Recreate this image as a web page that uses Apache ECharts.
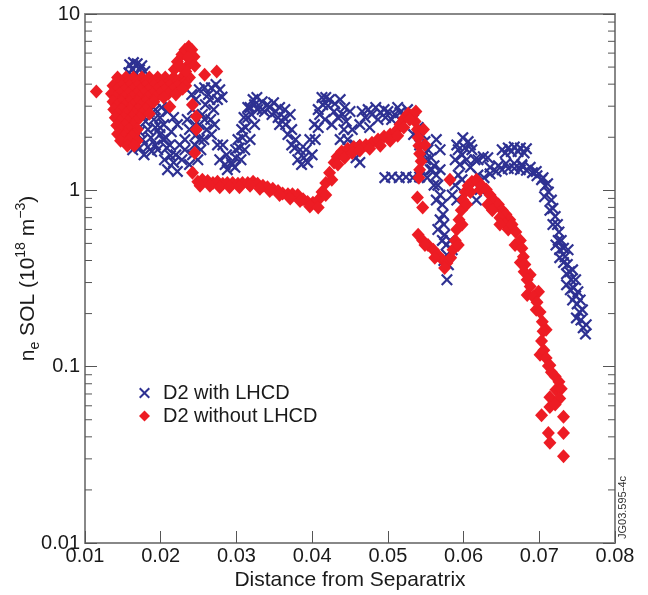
<!DOCTYPE html>
<html>
<head>
<meta charset="utf-8">
<script src="https://cdn.jsdelivr.net/npm/echarts@6/dist/echarts.min.js"></script>
<style>
  html, body { margin: 0; padding: 0; background: #fff; }
  #chart { width: 648px; height: 595px; }
</style>
</head>
<body>
<div id="chart"></div>
<script>
// x axis ticks (distance from separatrix)
var xTicks = [0.01, 0.02, 0.03, 0.04, 0.05, 0.06, 0.07, 0.08];
// minor ticks of the log axis
var yMinorTicks = [0.02, 0.03, 0.04, 0.05, 0.06, 0.07, 0.08, 0.09,
                   0.2, 0.3, 0.4, 0.5, 0.6, 0.7, 0.8, 0.9,
                   2, 3, 4, 5, 6, 7, 8, 9];

// D2 with LHCD  [distance, ne]
var withLHCD = [
  [0.0159,5.16],[0.0164,5.30],[0.0169,5.23],[0.0175,5.09],[0.0163,4.84],[0.0172,4.84],[0.0179,4.72],
  [0.0167,4.59],[0.0158,4.65],[0.0146,4.25],[0.0183,4.14],[0.0192,4.25],[0.0188,3.72],[0.0196,3.49],
  [0.0165,2.59],[0.0175,2.69],[0.0185,2.80],[0.0193,2.87],[0.0201,2.95],[0.0169,2.36],[0.0180,2.46],
  [0.0191,2.52],[0.0199,2.59],[0.0172,2.15],[0.0183,2.21],[0.0193,2.27],[0.0204,2.36],[0.0165,1.94],
  [0.0176,1.94],[0.0187,1.99],[0.0199,2.07],[0.0172,1.74],[0.0183,1.76],[0.0193,1.81],[0.0178,1.59],
  [0.0188,1.66],[0.0209,2.80],[0.0217,2.59],[0.0222,2.36],[0.0214,2.15],
  [0.0161,2.27],[0.0171,2.95],[0.0180,3.06],[0.0199,2.27],[0.0207,1.99],[0.0163,1.70],[0.0196,1.70],
  [0.0212,1.81],
  [0.0203,1.94],[0.0208,1.74],[0.0213,1.57],[0.0217,1.44],[0.0209,1.31],[0.0222,1.28],[0.0205,1.49],
  [0.0238,1.40],[0.0242,1.59],[0.0245,1.81],[0.0247,2.07],[0.0251,2.36],[0.0255,2.69],[0.0259,3.06],
  [0.0263,3.49],[0.0267,3.82],[0.0273,3.98],[0.0278,3.72],[0.0275,3.27],[0.0270,2.87],[0.0266,2.52],
  [0.0261,2.21],[0.0257,1.94],[0.0253,1.70],[0.0249,1.49],[0.0246,3.27],[0.0242,2.87],[0.0258,3.82],
  [0.0281,3.38],[0.0271,2.36],[0.0282,1.81],[0.0287,1.59],[0.0293,1.44],[0.0298,1.35],[0.0285,1.40],
  [0.0232,1.70],[0.0228,1.49],
  [0.0232,1.94],[0.0238,2.21],[0.0235,2.52],[0.0241,3.49],[0.0251,3.72],[0.0265,3.27],[0.0258,2.52],
  [0.0267,2.07],[0.0275,1.81],[0.0278,1.49],[0.0288,1.31],[0.0245,2.36],[0.0251,1.94],[0.0225,1.81],
  [0.0220,1.59],
  [0.0294,1.40],[0.0299,1.53],[0.0304,1.74],[0.0308,1.99],[0.0312,2.27],[0.0315,2.59],[0.0318,2.95],
  [0.0322,3.27],[0.0327,3.36],[0.0334,3.18],[0.0341,3.06],[0.0349,3.14],[0.0357,2.95],[0.0320,2.69],
  [0.0328,2.87],[0.0337,2.80],[0.0347,2.69],[0.0355,2.59],[0.0311,1.70],[0.0306,1.49],[0.0324,2.36],
  [0.0302,1.94],[0.0307,2.21],[0.0310,2.59],[0.0315,2.95],[0.0324,3.06],[0.0334,2.87],[0.0344,2.95],
  [0.0352,2.80],[0.0363,2.59],[0.0318,1.94],[0.0299,1.70],
  [0.0364,2.87],[0.0371,2.69],[0.0365,2.36],[0.0373,2.21],[0.0378,1.94],[0.0384,1.70],[0.0389,1.53],
  [0.0394,1.44],[0.0386,1.40],[0.0377,1.74],[0.0400,1.59],[0.0404,1.94],[0.0408,2.27],[0.0410,2.69],
  [0.0414,3.06],[0.0418,3.36],[0.0423,3.27],[0.0430,3.10],[0.0437,3.27],[0.0443,2.95],[0.0450,2.80],
  [0.0417,2.52],[0.0426,2.36],[0.0434,2.59],[0.0442,2.21],[0.0447,1.94],[0.0453,1.70],[0.0458,1.53],
  [0.0463,1.44],[0.0457,1.81],
  [0.0357,2.36],[0.0368,2.07],[0.0373,1.81],[0.0381,1.49],[0.0392,1.70],[0.0397,1.94],[0.0403,2.36],
  [0.0408,2.87],[0.0413,3.36],[0.0421,3.02],[0.0429,2.80],[0.0440,2.69],[0.0445,2.46],[0.0453,2.21],
  [0.0437,1.94],
  [0.0470,2.59],[0.0479,2.69],[0.0490,2.76],[0.0500,2.80],[0.0509,2.69],[0.0516,2.76],[0.0523,2.66],
  [0.0529,2.69],[0.0487,2.52],[0.0505,2.52],[0.0496,1.18],[0.0505,1.19],[0.0515,1.18],[0.0524,1.19],
  [0.0533,1.18],[0.0542,1.19],[0.0552,1.18],[0.0463,2.36],[0.0476,2.27],
  [0.0466,2.80],[0.0474,2.87],[0.0484,2.95],[0.0495,2.87],[0.0513,2.95],[0.0526,2.87],[0.0497,2.59],
  [0.0516,2.52],[0.0534,2.52],
  [0.0540,2.27],[0.0545,2.07],[0.0549,1.89],[0.0553,1.70],[0.0557,1.53],[0.0561,1.38],[0.0564,1.22],
  [0.0566,1.07],[0.0569,0.94],[0.0572,0.83],[0.0573,0.73],[0.0574,0.64],[0.0575,0.56],[0.0577,0.49],
  [0.0578,0.43],[0.0580,0.378],[0.0578,0.311],[0.0564,1.94],[0.0558,1.31],[0.0569,1.31],[0.0550,1.49],
  [0.0566,0.60],[0.0582,0.52],
  [0.0534,2.07],[0.0542,1.81],[0.0548,1.59],[0.0556,1.31],[0.0561,1.07],[0.0564,0.88],[0.0569,0.68],
  [0.0572,0.52],[0.0585,0.46],[0.0574,0.40],[0.0569,1.70],
  [0.0585,0.94],[0.0589,1.07],[0.0593,1.22],[0.0595,1.40],[0.0598,1.59],[0.0602,1.74],[0.0606,1.89],
  [0.0611,1.70],[0.0615,1.49],[0.0609,1.35],[0.0619,1.22],[0.0591,1.81],[0.0599,1.99],[0.0626,1.55],
  [0.0632,1.53],[0.0617,0.88],[0.0622,1.01],
  [0.0589,1.49],[0.0593,1.70],[0.0604,1.49],[0.0598,1.15],[0.0609,1.81],[0.0619,1.49],[0.0591,0.88],
  [0.0651,1.70],[0.0659,1.74],[0.0667,1.76],[0.0675,1.74],[0.0683,1.72],[0.0663,1.66],[0.0672,1.66],
  [0.0655,1.63],[0.0680,1.63],[0.0677,1.40],
  [0.0627,1.18],[0.0635,1.24],[0.0643,1.28],[0.0651,1.31],[0.0659,1.33],[0.0667,1.33],[0.0675,1.31],
  [0.0683,1.30],[0.0691,1.26],[0.0697,1.21],[0.0703,1.15],[0.0708,1.06],[0.0712,0.98],[0.0716,0.88],
  [0.0718,0.79],[0.0721,0.71],[0.0724,0.64],[0.0726,0.58],[0.0729,0.52],[0.0732,0.47],[0.0734,0.42],
  [0.0737,0.38],[0.0740,0.345],[0.0742,0.311],[0.0745,0.28],[0.0748,0.252],[0.0750,0.227],[0.0753,0.204],
  [0.0755,0.184],[0.0758,0.166],[0.0761,0.153],[0.0744,0.239],[0.0751,0.266],[0.0736,0.336],[0.0727,0.415],
  [0.0722,0.49],[0.0749,0.189],[0.0741,0.273],
  [0.0635,1.35],[0.0646,1.38],[0.0656,1.42],[0.0667,1.42],[0.0677,1.38],[0.0688,1.35],[0.0696,1.28],
  [0.0705,1.18],[0.0711,1.09],[0.0707,0.92],[0.0714,0.77],[0.0718,0.64],[0.0725,0.52],[0.0727,0.46],
  [0.0738,0.46],[0.0732,0.39],[0.0744,0.354],[0.0736,0.291],[0.0748,0.311],[0.0754,0.239],[0.0757,0.21],
  [0.0762,0.173]
];

// D2 without LHCD  [distance, ne]
var withoutLHCD = [
  [0.0115,3.63],
  [0.0143,4.36],[0.0154,4.36],[0.0164,4.36],[0.0175,4.36],[0.0185,4.36],[0.0196,4.36],[0.0206,4.36],
  [0.0217,4.36],[0.0228,4.36],[0.0238,4.36],
  [0.0148,4.14],[0.0159,4.14],[0.0169,4.14],[0.0180,4.14],[0.0191,4.14],[0.0201,4.14],[0.0212,4.14],
  [0.0222,4.14],[0.0233,4.14],
  [0.0137,3.92],[0.0148,3.92],[0.0159,3.92],[0.0169,3.92],[0.0180,3.92],[0.0191,3.92],[0.0201,3.92],
  [0.0212,3.92],[0.0222,3.92],[0.0233,3.92],
  [0.0142,3.72],[0.0152,3.72],[0.0163,3.72],[0.0173,3.72],[0.0184,3.72],[0.0195,3.72],[0.0205,3.72],
  [0.0216,3.72],
  [0.0135,3.53],[0.0146,3.53],[0.0157,3.53],[0.0168,3.53],[0.0178,3.53],[0.0189,3.53],[0.0199,3.53],
  [0.0210,3.53],
  [0.0140,3.36],[0.0151,3.36],[0.0162,3.36],[0.0172,3.36],[0.0183,3.36],[0.0193,3.36],[0.0204,3.36],
  [0.0137,3.18],[0.0148,3.18],[0.0159,3.18],[0.0169,3.18],[0.0180,3.18],[0.0191,3.18],
  [0.0142,3.02],[0.0152,3.02],[0.0163,3.02],[0.0173,3.02],[0.0184,3.02],
  [0.0138,2.87],[0.0149,2.87],[0.0160,2.87],[0.0170,2.87],[0.0181,2.87],
  [0.0143,2.72],[0.0154,2.72],[0.0165,2.72],[0.0175,2.72],[0.0185,2.72],
  [0.0140,2.58],[0.0151,2.58],[0.0162,2.58],[0.0172,2.58],
  [0.0146,2.46],[0.0157,2.46],[0.0167,2.46],
  [0.0142,2.33],[0.0153,2.33],[0.0164,2.33],
  [0.0147,2.21],[0.0158,2.21],[0.0169,2.21],
  [0.0143,2.09],[0.0154,2.09],[0.0165,2.09],
  [0.0151,2.02],[0.0162,2.02],
  [0.0147,1.91],[0.0158,1.91],[0.0169,1.91],
  [0.0156,1.79],[0.0165,1.79],
  [0.0218,4.84],[0.0222,5.36],[0.0228,5.89],[0.0232,6.28],[0.0237,6.53],[0.0241,6.28],[0.0244,5.73],
  [0.0238,5.23],[0.0233,4.72],[0.0225,5.09],[0.0245,5.09],[0.0236,5.65],
  [0.0258,4.53],[0.0274,4.72],[0.0212,2.98],[0.0242,3.06],[0.0247,2.62],[0.0247,2.21],[0.0245,1.63],
  [0.0242,1.26],[0.0220,3.49],[0.0229,3.77],
  [0.0249,1.12],[0.0255,1.15],[0.0262,1.13],[0.0269,1.10],[0.0275,1.12],[0.0282,1.09],[0.0288,1.10],
  [0.0295,1.10],[0.0302,1.09],[0.0308,1.10],[0.0315,1.10],[0.0322,1.12],[0.0328,1.09],[0.0335,1.06],
  [0.0341,1.04],[0.0348,1.02],[0.0355,0.99],[0.0361,0.96],[0.0368,0.95],[0.0374,0.95],[0.0381,0.94],
  [0.0388,0.89],[0.0394,0.86],[0.0401,0.85],[0.0408,0.88],[0.0413,0.98],[0.0418,1.10],[0.0423,1.26],
  [0.0429,1.44],[0.0433,1.55],[0.0439,1.66],[0.0447,1.72],[0.0455,1.76],[0.0463,1.79],[0.0471,1.81],
  [0.0479,1.86],[0.0487,1.94],[0.0495,2.02],[0.0503,2.07],[0.0511,2.18],[0.0516,2.36],[0.0521,2.55],
  [0.0527,2.73],[0.0532,2.66],[0.0536,2.46],[0.0539,2.21],[0.0540,1.99],[0.0541,1.79],[0.0542,1.61],
  [0.0544,1.46],[0.0542,1.31],[0.0541,1.18],[0.0539,0.91],[0.0546,0.80],
  [0.0252,1.06],[0.0265,1.06],[0.0278,1.04],[0.0291,1.04],[0.0304,1.04],[0.0318,1.06],[0.0331,1.02],
  [0.0344,0.99],[0.0357,0.94],[0.0371,0.90],[0.0384,0.87],[0.0397,0.81],[0.0408,0.80],[0.0418,0.94],
  [0.0426,1.15],[0.0434,1.40],[0.0443,1.53],[0.0453,1.63],[0.0463,1.68],[0.0476,1.72],[0.0490,1.79],
  [0.0503,1.91],[0.0513,2.04],[0.0521,2.27],[0.0529,2.52],[0.0537,2.80],[0.0547,2.21],[0.0549,1.81],
  [0.0540,0.56],[0.0546,0.52],[0.0553,0.49],[0.0560,0.46],[0.0566,0.43],[0.0573,0.40],[0.0578,0.387],
  [0.0583,0.415],[0.0586,0.46],[0.0589,0.52],[0.0591,0.60],[0.0594,0.68],[0.0597,0.77],[0.0599,0.88],
  [0.0602,0.98],[0.0606,1.06],[0.0611,1.12],[0.0617,1.15],[0.0582,1.15],
  [0.0549,0.49],[0.0562,0.415],[0.0575,0.363],[0.0593,0.49],[0.0598,0.64],[0.0604,0.83],[0.0609,0.98],
  [0.0622,1.01],
  [0.0619,1.12],[0.0624,1.06],[0.0630,1.01],[0.0635,0.94],[0.0640,0.88],[0.0646,0.83],[0.0651,0.77],
  [0.0656,0.73],[0.0661,0.68],[0.0632,0.83],[0.0648,0.70],[0.0655,0.64],
  [0.0638,0.77],[0.0648,0.64],[0.0659,0.60],[0.0668,0.49],[0.0675,0.39],[0.0688,0.332],[0.0699,0.266],
  [0.0696,0.21],[0.0709,0.162],[0.0701,0.117],[0.0714,0.102],[0.0722,0.074],
  [0.0664,0.64],[0.0669,0.58],[0.0675,0.52],[0.0677,0.47],[0.0679,0.42],[0.0681,0.38],[0.0680,0.345],
  [0.0684,0.311],[0.0688,0.285],[0.0684,0.255],[0.0692,0.249],[0.0697,0.232],[0.0701,0.204],[0.0704,0.180],
  [0.0705,0.159],[0.0703,0.140],[0.0706,0.124],[0.0709,0.112],[0.0712,0.101],[0.0716,0.093],[0.0721,0.088],
  [0.0726,0.082],[0.0729,0.075],
  [0.0714,0.067],[0.0727,0.066],[0.0714,0.059],[0.0721,0.061],[0.0703,0.053],[0.0732,0.052],
  [0.0712,0.042],[0.0732,0.042],[0.0714,0.037],[0.0732,0.031]
];

var BLUE = '#2e3192';
var RED = '#ed1c24';
var FONT = '"Liberation Sans", Arial, Helvetica, sans-serif';
var CROSS = 'path://M0,1.3L1.3,0L5,3.7L8.7,0L10,1.3L6.3,5L10,8.7L8.7,10L5,6.3L1.3,10L0,8.7L3.7,5Z';

var chart = echarts.init(document.getElementById('chart'));

var labelStyle = { color: '#1a1a1a', fontSize: 20, fontFamily: FONT };

var option = {
    animation: false,
    backgroundColor: '#fff',
    grid: { left: 85, right: 33, top: 14, bottom: 52, containLabel: false, outerBoundsMode: 'none' },
    legend: {
        left: 134, top: 378, orient: 'vertical', itemGap: 3,
        itemWidth: 11, itemHeight: 11,
        textStyle: { fontSize: 20, color: '#1a1a1a', fontFamily: FONT, padding: [0, 0, 0, 8] },
        data: [
            { name: 'D2 with LHCD', icon: CROSS, itemStyle: { color: BLUE } },
            { name: 'D2 without LHCD', icon: 'diamond', itemStyle: { color: RED } }
        ]
    },
    xAxis: [{
        type: 'value', min: 0.01, max: 0.08, interval: 0.01,
        name: 'Distance from Separatrix', nameLocation: 'middle', nameGap: 27, nameMoveOverlap: false,
        nameTextStyle: { color: '#1a1a1a', fontSize: 21, fontFamily: FONT },
        axisLine: { lineStyle: { color: '#888', width: 2 } },
        axisTick: { inside: true, length: 12, lineStyle: { color: '#555', width: 1 } },
        axisLabel: Object.assign({ margin: 3, formatter: function (v) { return v.toFixed(2); } }, labelStyle),
        splitLine: { show: false }
    }, {
        type: 'value', position: 'top', min: 0.01, max: 0.08,
        axisLine: { lineStyle: { color: '#888', width: 2 } },
        axisTick: { show: false }, axisLabel: { show: false }, splitLine: { show: false }
    }],
    yAxis: [{
        type: 'log', logBase: 10, min: 0.01, max: 10,
        name: '{a|n}{sub|e}{a| SOL (10}{sup|18}{a| m}{sup|−3}{a|)}',
        nameLocation: 'middle', nameGap: 43, nameRotate: 90, nameMoveOverlap: false,
        nameTextStyle: {
            rich: {
                a: { fontSize: 21, fontFamily: FONT, color: '#1a1a1a', lineHeight: 28, verticalAlign: 'middle' },
                sub: { fontSize: 14, fontFamily: FONT, color: '#1a1a1a', lineHeight: 28, verticalAlign: 'bottom' },
                sup: { fontSize: 14, fontFamily: FONT, color: '#1a1a1a', lineHeight: 28, verticalAlign: 'top' }
            }
        },
        axisLine: { lineStyle: { color: '#888', width: 2 } },
        axisTick: { inside: true, length: 12, lineStyle: { color: '#555', width: 1 } },
        axisLabel: Object.assign({ margin: 5, formatter: function (v) { return String(parseFloat(v.toPrecision(3))); } }, labelStyle),
        splitLine: { show: false }
    }, {
        type: 'log', logBase: 10, min: 0.01, max: 10, position: 'right',
        axisLine: { lineStyle: { color: '#888', width: 2 } },
        axisTick: { inside: true, length: 12, lineStyle: { color: '#555', width: 1 } },
        axisLabel: { show: false }, splitLine: { show: false }
    }],
    graphic: [{
        type: 'text', left: 617, top: 476, rotation: Math.PI / 2,
        style: { text: 'JG03.595-4c', fontSize: 11, fill: '#333', fontFamily: FONT }
    }],
    series: [{
        // minor ticks on both log axes
        type: 'custom', silent: true, z: 1,
        data: yMinorTicks.map(function (v) { return [0.01, v]; }),
        renderItem: function (params, api) {
            var v = api.value(1);
            var l = api.coord([0.01, v]);
            var r = api.coord([0.08, v]);
            var st = { stroke: '#555', lineWidth: 1 };
            return {
                type: 'group',
                children: [
                    { type: 'line', shape: { x1: l[0], y1: l[1], x2: l[0] + 7, y2: l[1] }, style: st },
                    { type: 'line', shape: { x1: r[0], y1: r[1], x2: r[0] - 7, y2: r[1] }, style: st }
                ]
            };
        }
    }, {
        name: 'D2 with LHCD', type: 'scatter', symbol: CROSS, symbolSize: 12, z: 2,
        itemStyle: { color: BLUE, opacity: 1 },
        data: withLHCD
    }, {
        name: 'D2 without LHCD', type: 'scatter', symbol: 'diamond', symbolSize: [13, 14], z: 3,
        itemStyle: { color: RED, opacity: 1 },
        data: withoutLHCD
    }]
};

chart.setOption(option);
</script>
</body>
</html>
